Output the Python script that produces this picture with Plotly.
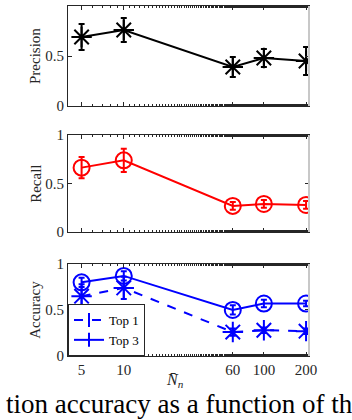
import plotly.graph_objects as go
from plotly.subplots import make_subplots

n_vals = [5, 10, 60, 100, 200]
tick_text = ["5", "10", "60", "100", "200"]

precision = [0.69, 0.76, 0.39, 0.48, 0.45]
precision_err = [0.13, 0.12, 0.10, 0.09, 0.14]

recall = [0.665, 0.74, 0.27, 0.29, 0.28]
recall_err = [0.11, 0.12, 0.04, 0.04, 0.04]

acc_top1 = [0.65, 0.74, 0.26, 0.28, 0.27]
acc_top1_err = [0.13, 0.12, 0.04, 0.03, 0.03]
acc_top3 = [0.80, 0.87, 0.50, 0.57, 0.57]
acc_top3_err = [0.05, 0.05, 0.05, 0.04, 0.03]

serif = "Liberation Serif, Times New Roman, DejaVu Serif, serif"
axcol = "#262626"

fig = make_subplots(rows=3, cols=1, shared_xaxes=True, vertical_spacing=0.05)

fig.add_trace(go.Scatter(
    x=n_vals, y=precision, mode="lines+markers", showlegend=False,
    line=dict(color="black", width=2),
    marker=dict(symbol="asterisk-open", size=17, line=dict(color="black", width=2)),
    error_y=dict(type="data", array=precision_err, color="black", thickness=2, width=3),
), row=1, col=1)

fig.add_trace(go.Scatter(
    x=n_vals, y=recall, mode="lines+markers", showlegend=False,
    line=dict(color="#ff0000", width=2),
    marker=dict(symbol="circle-open", size=16, line=dict(color="#ff0000", width=2)),
    error_y=dict(type="data", array=recall_err, color="#ff0000", thickness=2, width=3),
), row=2, col=1)

fig.add_trace(go.Scatter(
    x=n_vals, y=acc_top1, mode="lines+markers", showlegend=False,
    line=dict(color="#0000ff", width=2, dash="dash"),
    marker=dict(symbol="asterisk-open", size=17, line=dict(color="#0000ff", width=2)),
    error_y=dict(type="data", array=acc_top1_err, color="#0000ff", thickness=2, width=3),
), row=3, col=1)

fig.add_trace(go.Scatter(
    x=n_vals, y=acc_top3, mode="lines+markers", showlegend=False,
    line=dict(color="#0000ff", width=2),
    marker=dict(symbol="circle-open", size=16, line=dict(color="#0000ff", width=2)),
    error_y=dict(type="data", array=acc_top3_err, color="#0000ff", thickness=2, width=3),
), row=3, col=1)

# legend entries with the small errorbar-style glyph
for name, dash in [("Top 1", "dash"), ("Top 3", "solid")]:
    fig.add_trace(go.Scatter(
        x=[None], y=[None], mode="lines+markers", name=name,
        line=dict(color="#0000ff", width=2, dash=dash),
        marker=dict(symbol="line-ns-open", size=10, line=dict(color="#0000ff", width=2)),
    ), row=3, col=1)

domains = [[0.714, 1.0], [0.354, 0.631], [0.0, 0.263]]
titles = ["Precision", "Recall", "Accuracy"]

for i in range(3):
    yname = "yaxis" if i == 0 else "yaxis%d" % (i + 1)
    xname = "xaxis" if i == 0 else "xaxis%d" % (i + 1)
    fig.layout[yname].update(
        domain=domains[i], range=[0, 1], tickvals=[0, 0.5, 1], ticktext=["0", "0.5", "1"],
        showgrid=False, zeroline=False, showline=True, linecolor=axcol, linewidth=1,
        mirror="ticks", ticks="inside", ticklen=4, tickcolor=axcol, automargin=False,
        tickfont=dict(family=serif, size=15, color=axcol),
        title=dict(text=titles[i], font=dict(family=serif, size=15, color=axcol), standoff=0),
    )
    fig.layout[xname].update(
        type="log", range=[0.602, 2.322], tickvals=n_vals, ticktext=tick_text,
        showgrid=False, zeroline=False, showline=True, linecolor=axcol, linewidth=1,
        mirror="ticks", ticks="inside", ticklen=4, tickcolor=axcol, automargin=False,
        minor=dict(ticks="inside", ticklen=2, tickcolor=axcol, showgrid=False),
        tickfont=dict(family=serif, size=15, color=axcol),
        showticklabels=(i == 2),
    )
    # light grey right edge, as in the exported figure
    fig.add_shape(type="line", xref="x domain" if i == 0 else "x%d domain" % (i + 1),
                  yref="y domain" if i == 0 else "y%d domain" % (i + 1),
                  x0=1, x1=1, y0=0, y1=1, line=dict(color="#c8c8c8", width=2))

fig.add_annotation(text="<i>N̄</i><sub><i>n</i></sub>", xref="paper", yref="paper",
                   x=0.445, y=-0.069, showarrow=False, yanchor="middle",
                   font=dict(family=serif, size=16, color=axcol))

fig.add_annotation(text="tion accuracy as a function of th", xref="paper", yref="paper",
                   x=-0.265, y=-0.137, xanchor="left", yanchor="middle", showarrow=False,
                   font=dict(family=serif, size=27, color="black"))

fig.update_layout(
    width=352, height=420,
    margin=dict(l=68, r=43, t=6, b=64, autoexpand=False),
    plot_bgcolor="white", paper_bgcolor="white",
    legend=dict(x=0, y=0, xanchor="left", yanchor="bottom",
                bgcolor="white", bordercolor=axcol, borderwidth=1,
                font=dict(family=serif, size=13, color="black"),
                tracegroupgap=0, itemwidth=30),
)

fig.write_html("out.html", config={"displayModeBar": False},
               post_script="document.body.style.margin='0';")
